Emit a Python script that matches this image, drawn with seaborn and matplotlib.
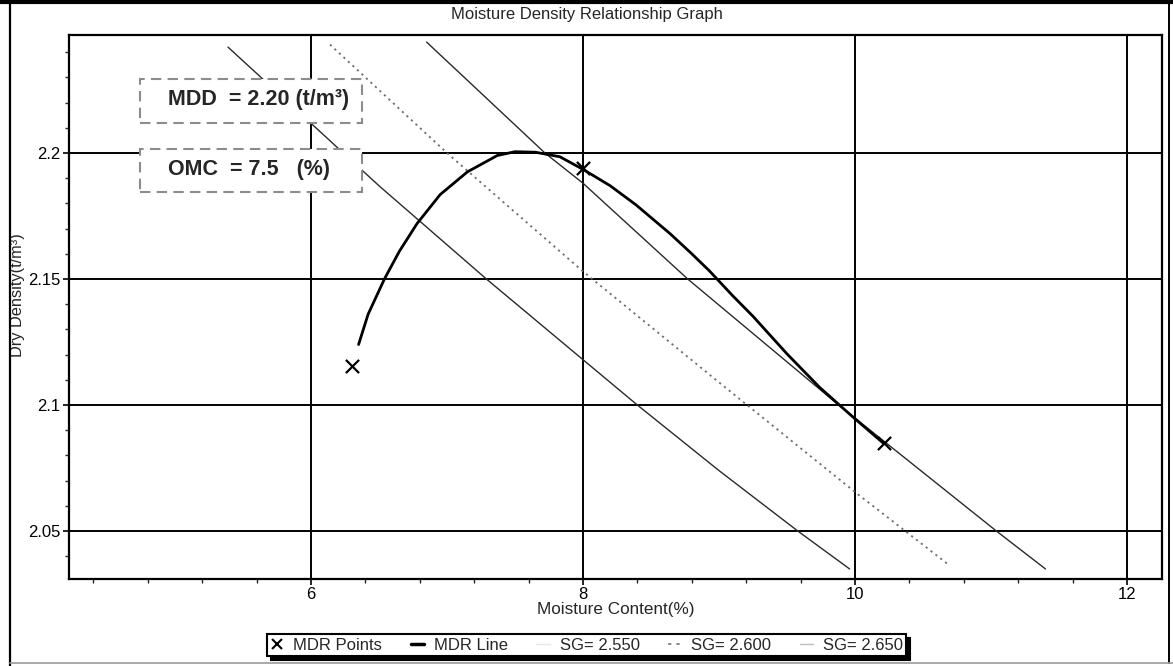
"""
Moisture Density Relationship Graph (compaction test) redrawn with seaborn.
"""

import matplotlib
matplotlib.use("Agg")
import matplotlib.pyplot as plt
import matplotlib.patches as patches
from matplotlib.lines import Line2D
import seaborn as sns


# ── Data ──────────────────────────────────────────────────────────────────────
mdr_mc = [6.30, 8.00, 10.21]
mdr_dd = [2.1155, 2.194, 2.0848]

curve_mc = [6.35, 6.42, 6.54, 6.65, 6.78, 6.95, 7.15, 7.37, 7.50, 7.65,
            7.83, 8.00, 8.20, 8.39, 8.64, 8.80, 8.93, 9.10, 9.25, 9.50,
            9.74, 9.99, 10.21]
curve_dd = [2.124, 2.136, 2.150, 2.161, 2.172, 2.1835, 2.1925, 2.199, 2.2005, 2.2003,
            2.1985, 2.1935, 2.187, 2.1794, 2.168, 2.160, 2.1532, 2.1434, 2.1352, 2.1203,
            2.107, 2.095, 2.0848]

sg255_mc = [5.39, 6.50, 7.29, 8.00, 8.40, 9.00, 9.58, 9.96]
sg255_dd = [2.242, 2.187, 2.150, 2.118, 2.100, 2.074, 2.050, 2.035]

sg260_mc = [6.14, 7.00, 8.00, 9.00, 10.00, 10.68]
sg260_dd = [2.243, 2.200, 2.153, 2.109, 2.0655, 2.037]

sg265_mc = [6.85, 7.72, 8.00, 8.77, 9.88, 11.04, 11.40]
sg265_dd = [2.244, 2.200, 2.188, 2.150, 2.100, 2.050, 2.035]

x_ticks = [6, 8, 10, 12]
y_ticks = [2.05, 2.1, 2.15, 2.2]
y_tick_labels = ["2.05", "2.1", "2.15", "2.2"]

mdd_text = "MDD  = 2.20 (t/m³)"
omc_text = "OMC  = 7.5   (%)"


# ── Style ─────────────────────────────────────────────────────────────────────
sns.set_theme(style="white")
plt.rcParams["font.family"] = ["Liberation Sans", "DejaVu Sans"]

W, H = 1173, 666
fig = plt.figure(figsize=(W / 100, H / 100), dpi=100)

# plot area in pixels: left 69, right 1162, top 35, bottom 579
ax = fig.add_axes([69 / W, 1 - 579 / H, (1162 - 69) / W, (579 - 35) / H])
ax.set_xlim(4.221, 12.257)
ax.set_ylim(2.031, 2.2468)

# ── Lines ─────────────────────────────────────────────────────────────────────
sns.lineplot(x=sg255_mc, y=sg255_dd, ax=ax, color="#2a2a2a", lw=1.0,
             sort=False, estimator=None, zorder=3)
sns.lineplot(x=sg260_mc, y=sg260_dd, ax=ax, color="#6e6e6e", lw=1.3,
             linestyle=(0, (1.2, 2.2)), sort=False, estimator=None, zorder=3)
sns.lineplot(x=sg265_mc, y=sg265_dd, ax=ax, color="#2a2a2a", lw=1.0,
             sort=False, estimator=None, zorder=3)
sns.lineplot(x=curve_mc, y=curve_dd, ax=ax, color="black", lw=2.0,
             sort=False, estimator=None, zorder=4)
sns.scatterplot(x=mdr_mc, y=mdr_dd, ax=ax, marker="x", color="black",
                s=90, linewidth=1.6, zorder=5)

# ── Axes, ticks, grid ─────────────────────────────────────────────────────────
ax.set_xticks(x_ticks)
ax.set_xticks([4.4 + 0.4 * i for i in range(20)], minor=True)
ax.set_yticks(y_ticks, labels=y_tick_labels)
ax.set_yticks([2.04 + 0.01 * i for i in range(21) if i % 5 != 1], minor=True)
ax.tick_params(which="major", direction="out", length=4, width=1.2,
               labelsize=12, pad=2, colors="black", bottom=True, left=True)
ax.tick_params(which="minor", direction="out", length=3, width=1.0,
               bottom=True, left=True)
ax.grid(True, which="major", color="black", lw=1.4)
ax.set_axisbelow(True)
for sp in ax.spines.values():
    sp.set_color("black")
    sp.set_linewidth(1.6)

ax.set_xlabel("Moisture Content(%)", fontsize=12.3)
ax.xaxis.set_label_coords(0.5, (579 - 602) / 544)
ax.set_ylabel("Dry Density(t/m³)", fontsize=11.8)
ax.yaxis.set_label_coords((25 - 69) / 1093, (579 - 295) / 544)

# ── MDD / OMC boxes ───────────────────────────────────────────────────────────
def box(y_top, y_bot, text, y_text):
    x0 = (140 - 69) / 1093
    w = (362 - 140) / 1093
    y0 = (579 - y_bot) / 544
    h = (y_bot - y_top) / 544
    rect = patches.Rectangle((x0, y0), w, h, transform=ax.transAxes,
                             facecolor="white", edgecolor="#8c8c8c", lw=1.5,
                             linestyle=(0, (5, 3)), zorder=6, clip_on=False)
    ax.add_patch(rect)
    ax.text((168 - 69) / 1093, (579 - y_text) / 544, text, transform=ax.transAxes,
            ha="left", va="center", fontsize=15.5, fontweight="bold", zorder=7)

box(79, 123, mdd_text, 100)
box(149, 192, omc_text, 169)

# ── Title, frame, legend ──────────────────────────────────────────────────────
fig.text(0.5, 1 - 15 / H, "Moisture Density Relationship Graph",
         ha="center", va="center", fontsize=12)

fig.add_artist(Line2D([0, 1], [1 - 2 / H] * 2, color="black", lw=3))
fig.add_artist(Line2D([10 / W] * 2, [0, 1], color="black", lw=1.6))
fig.add_artist(Line2D([1169 / W] * 2, [1 - 663 / H, 1], color="black", lw=1.4))
fig.add_artist(Line2D([10 / W, 1], [1 - 663 / H] * 2, color="#9a9a9a", lw=1.2))

handles = [
    Line2D([], [], marker="x", color="black", ls="none", markersize=7, mew=1.5,
           label="MDR Points"),
    Line2D([], [], color="black", lw=2.5, label="MDR Line"),
    Line2D([], [], color="#e8e8e8", lw=1.0, label="SG= 2.550"),
    Line2D([], [], color="#777777", lw=1.2, ls=(0, (2, 3)), label="SG= 2.600"),
    Line2D([], [], color="#bdbdbd", lw=1.0, label="SG= 2.650"),
]
leg = fig.legend(handles=handles, loc="center", bbox_to_anchor=(0.5, 1 - 645 / H),
                 ncol=5, fontsize=12, frameon=True, fancybox=False,
                 edgecolor="black", handlelength=0.8, handletextpad=0.6,
                 columnspacing=1.7, borderpad=0.2,
                 shadow={"ox": 3, "oy": -3, "facecolor": "black",
                         "edgecolor": "black", "alpha": 1})
leg.get_frame().set_linewidth(1.5)
leg.get_frame().set_alpha(1)

fig.savefig("out.png", dpi=100)
